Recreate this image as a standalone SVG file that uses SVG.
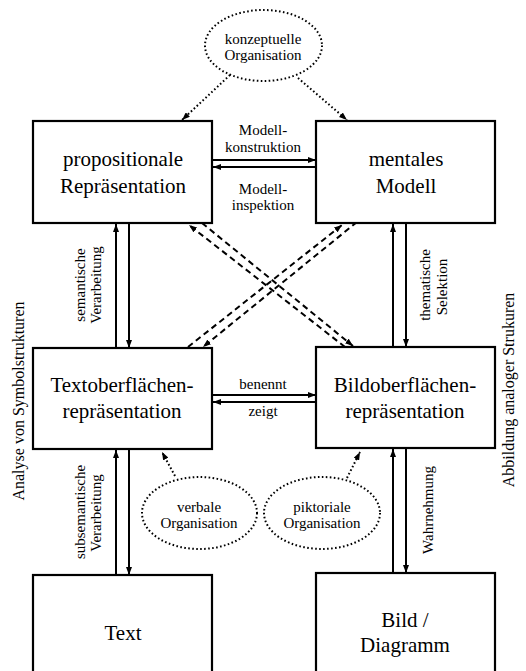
<svg xmlns="http://www.w3.org/2000/svg" width="526" height="671" viewBox="0 0 526 671" font-family="'Liberation Serif', 'Times New Roman', serif">
<style>
.box{fill:#fff;stroke:#000;stroke-width:2.2}
.big{font-size:21px;text-anchor:middle}
.lbl{font-size:15px;text-anchor:middle}
.side{font-size:16px;text-anchor:middle}
.solid{stroke:#000;stroke-width:2;fill:none;marker-end:url(#ah)}
.dash{stroke:#000;stroke-width:2;fill:none;stroke-dasharray:6 4;marker-end:url(#ah)}
.dot{stroke:#000;stroke-width:2;fill:none;stroke-dasharray:1.6 2.4;marker-end:url(#ah)}
.ell{fill:#fff;stroke:#000;stroke-width:2;stroke-dasharray:1.6 2.4}
</style>
<defs>
<marker id="ah" markerUnits="userSpaceOnUse" markerWidth="8" markerHeight="6" refX="8" refY="3" orient="auto">
<path d="M0,0 L8,3 L0,6 z" fill="#000"/>
</marker>
</defs>

<g id="connectors">
<path class="dot" d="M230,75 L182,120"/>
<path class="dot" d="M298,78 L347,120"/>
<path class="solid" d="M213,160 L316,160"/>
<path class="solid" d="M316,167 L213,167"/>
<path class="solid" d="M213,395 L316,395"/>
<path class="solid" d="M316,402 L213,402"/>
<path class="solid" d="M116,348 L116,224"/>
<path class="solid" d="M129,224 L129,348"/>
<path class="solid" d="M393,347 L393,224"/>
<path class="solid" d="M406,224 L406,347"/>
<path class="solid" d="M116,575 L116,450"/>
<path class="solid" d="M129,450 L129,575"/>
<path class="solid" d="M393,573 L393,449"/>
<path class="solid" d="M406,449 L406,573"/>
<path class="dash" d="M202,223 L353,346"/>
<path class="dash" d="M345,347 L189,225"/>
<path class="dash" d="M188,347 L342,225"/>
<path class="dash" d="M357,222 L203,347"/>
<path class="dot" d="M175,476 L162,452"/>
<path class="dot" d="M347,478 L360,452"/>
</g>

<g id="konzeptuelle">
<ellipse class="ell" cx="263.5" cy="45.5" rx="58.5" ry="35.5"/>
<text class="lbl" x="263" y="44" font-family="Liberation Serif">konzeptuelle</text>
<text class="lbl" x="263" y="60" font-family="Liberation Serif">Organisation</text>
</g>

<g id="propositionale" font-family="Liberation Serif">
<rect class="box" x="33" y="121" width="179" height="102"/>
<text class="big" x="123" y="166">propositionale</text>
<text class="big" x="123" y="193">Repräsentation</text>
</g>

<g id="mentales" font-family="Liberation Serif">
<rect class="box" x="316" y="121" width="179" height="102"/>
<text class="big" x="406" y="166">mentales</text>
<text class="big" x="406" y="193">Modell</text>
</g>

<g id="textoberflaeche" font-family="Liberation Serif">
<rect class="box" x="33" y="348" width="179" height="101"/>
<text class="big" x="122" y="392">Textoberflächen-</text>
<text class="big" x="122" y="418">repräsentation</text>
</g>

<g id="bildoberflaeche" font-family="Liberation Serif">
<rect class="box" x="316" y="347" width="179" height="101"/>
<text class="big" x="405" y="392">Bildoberflächen-</text>
<text class="big" x="405" y="418">repräsentation</text>
</g>

<g id="text" font-family="Liberation Serif">
<rect class="box" x="33" y="575" width="179" height="110"/>
<text class="big" x="123" y="640">Text</text>
</g>

<g id="bild" font-family="Liberation Serif">
<rect class="box" x="316" y="573" width="179" height="110"/>
<text class="big" x="405" y="627">Bild /</text>
<text class="big" x="405" y="652">Diagramm</text>
</g>

<g id="verbale" font-family="Liberation Serif">
<ellipse class="ell" cx="199.5" cy="513" rx="57.5" ry="36"/>
<text class="lbl" x="199" y="512">verbale</text>
<text class="lbl" x="199" y="528">Organisation</text>
</g>

<g id="piktoriale" font-family="Liberation Serif">
<ellipse class="ell" cx="322" cy="513" rx="58" ry="36"/>
<text class="lbl" x="322" y="512">piktoriale</text>
<text class="lbl" x="322" y="528">Organisation</text>
</g>

<g id="labels" font-family="Liberation Serif">
<text class="lbl" x="263" y="135">Modell-</text>
<text class="lbl" x="263" y="152">konstruktion</text>
<text class="lbl" x="263" y="194">Modell-</text>
<text class="lbl" x="263" y="210">inspektion</text>
<text class="lbl" x="263" y="389">benennt</text>
<text class="lbl" x="263" y="416">zeigt</text>
<text class="lbl" transform="translate(85,285) rotate(-90)">semantische</text>
<text class="lbl" transform="translate(101,285) rotate(-90)">Verarbeitung</text>
<text class="lbl" transform="translate(430,285) rotate(-90)">thematische</text>
<text class="lbl" transform="translate(447,287) rotate(-90)">Selektion</text>
<text class="lbl" transform="translate(85,512) rotate(-90)">subsemantische</text>
<text class="lbl" transform="translate(101,513) rotate(-90)">Verarbeitung</text>
<text class="lbl" transform="translate(433,510) rotate(-90)">Wahrnehmung</text>
<text class="side" transform="translate(24,401) rotate(-90)">Analyse von Symbolstrukturen</text>
<text class="side" transform="translate(514,390) rotate(-90)">Abbildung analoger Strukuren</text>
</g>
</svg>
